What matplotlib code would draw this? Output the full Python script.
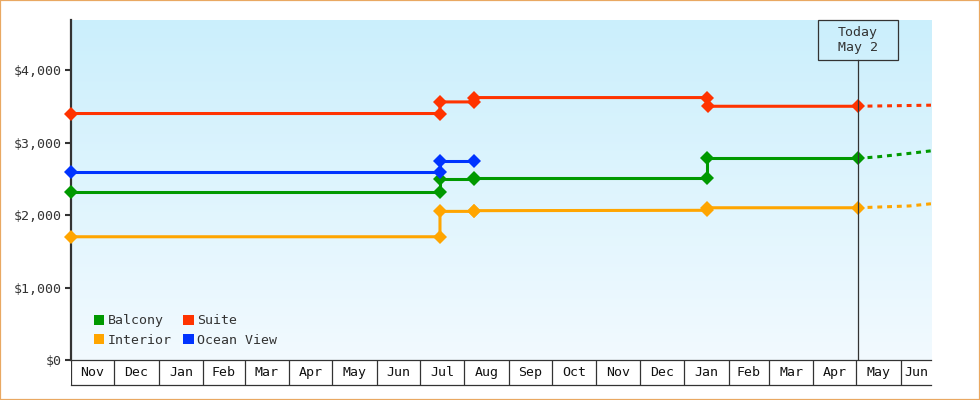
import matplotlib
matplotlib.use('Agg')
import matplotlib.pyplot as plt
import matplotlib.dates as mdates
from matplotlib.patches import Rectangle, Patch
from matplotlib.colors import LinearSegmentedColormap
from matplotlib.ticker import FuncFormatter
import numpy as np
import pandas as pd

# ---------------- data ----------------
series_names = ['Balcony', 'Interior', 'Suite', 'Ocean View']

balcony_dates = ['2023-11-01', '2024-07-15', '2024-07-15', '2024-08-08', '2024-08-08',
                 '2025-01-17', '2025-01-17', '2025-05-02']
balcony_values = [2320, 2320, 2500, 2500, 2510, 2510, 2780, 2780]

interior_dates = ['2023-11-01', '2024-07-15', '2024-07-15', '2024-08-08', '2024-08-08',
                  '2025-01-17', '2025-01-17', '2025-05-02']
interior_values = [1700, 1700, 2050, 2050, 2060, 2065, 2100, 2100]

suite_dates = ['2023-11-01', '2024-07-15', '2024-07-15', '2024-08-08', '2024-08-08',
               '2025-01-17', '2025-01-18', '2025-05-02']
suite_values = [3400, 3400, 3560, 3560, 3620, 3620, 3500, 3500]

ocean_dates = ['2023-11-01', '2024-07-15', '2024-07-15', '2024-08-08']
ocean_values = [2600, 2600, 2750, 2750]

# forecast (dotted) parts
balcony_fc_dates = ['2025-05-02', '2025-05-17', '2025-06-07', '2025-06-22']
balcony_fc_values = [2780, 2805, 2850, 2885]
interior_fc_dates = ['2025-05-02', '2025-06-07', '2025-06-22']
interior_fc_values = [2100, 2125, 2155]
suite_fc_dates = ['2025-05-02', '2025-06-22']
suite_fc_values = [3500, 3515]

today = '2025-05-02'
today_label = 'Today\nMay 2'

x_start = '2023-11-01'
x_end = '2025-06-22'
month_labels = ['Nov', 'Dec', 'Jan', 'Feb', 'Mar', 'Apr', 'May', 'Jun', 'Jul', 'Aug',
                'Sep', 'Oct', 'Nov', 'Dec', 'Jan', 'Feb', 'Mar', 'Apr', 'May', 'Jun']
y_ticks = [0, 1000, 2000, 3000, 4000]
y_max = 4690

colors = {'Balcony': '#009900', 'Interior': '#FFA500', 'Suite': '#FF3300', 'Ocean View': '#0033FF'}

# ---------------- figure ----------------
W, H = 980, 400
DPI = 100
fig = plt.figure(figsize=(W / DPI, H / DPI), dpi=DPI)
fig.patch.set_facecolor('white')

FONT = 'DejaVu Sans Mono'
FS = 9.5
TXT = '#333333'

L, R, T, B = 71, 931, 20, 360
ax = fig.add_axes([L / W, 1 - B / H, (R - L) / W, (B - T) / H])
ax.set_facecolor('none')

# gradient background
cmap = LinearSegmentedColormap.from_list('bg', ['#F2FAFF', '#CBEFFC'])
grad = np.linspace(0, 1, 256).reshape(-1, 1)
ax.imshow(grad, extent=[0, 1, 0, 1], transform=ax.transAxes, origin='lower',
          cmap=cmap, aspect='auto', zorder=0, interpolation='bicubic')

xs = mdates.date2num(pd.Timestamp(x_start))
xe = mdates.date2num(pd.Timestamp(x_end))
ax.set_xlim(xs, xe)
ax.set_ylim(0, y_max)

def d(lst):
    return pd.to_datetime(lst)

LW = 2.2
MS = 7
main = [('Balcony', balcony_dates, balcony_values),
        ('Interior', interior_dates, interior_values),
        ('Suite', suite_dates, suite_values),
        ('Ocean View', ocean_dates, ocean_values)]
for name, dts, vals in main:
    ax.plot(d(dts), vals, color=colors[name], lw=LW, marker='D', ms=MS,
            markeredgewidth=0, zorder=4, solid_joinstyle='miter', clip_on=False)

fcs = [('Balcony', balcony_fc_dates, balcony_fc_values),
       ('Interior', interior_fc_dates, interior_fc_values),
       ('Suite', suite_fc_dates, suite_fc_values)]
for name, dts, vals in fcs:
    dd = d(dts)
    ln, = ax.plot(dd, vals, color=colors[name], lw=LW, zorder=3)
    ln.set_dashes((1.6, 1.6))
    ln.set_dash_capstyle('butt')

# today line
tnum = mdates.date2num(pd.Timestamp(today))
box_h_px = 40
ax.axvline(tnum, ymin=0, ymax=1 - box_h_px / (B - T), color=TXT, lw=0.9, zorder=5)

# y axis
ax.set_yticks(y_ticks)
ax.yaxis.set_major_formatter(FuncFormatter(lambda v, p: '${:,.0f}'.format(v)))
ax.tick_params(axis='y', length=4.5, width=1.5, color=TXT, pad=2.2, labelsize=FS,
               labelcolor=TXT)
for lab in ax.get_yticklabels():
    lab.set_fontfamily(FONT)
ax.set_xticks([])
for s in ['top', 'right']:
    ax.spines[s].set_visible(False)
ax.spines['left'].set_color(TXT)
ax.spines['left'].set_linewidth(1.6)
ax.spines['left'].set_zorder(2)
ax.spines['bottom'].set_color(TXT)
ax.spines['bottom'].set_linewidth(0.9)

# legend
handles = [Patch(facecolor=colors[n], edgecolor='none', label=n) for n in series_names]
leg = ax.legend(handles=handles, ncol=2, loc='lower left', frameon=False,
                bbox_to_anchor=(0.017, 0.015), prop={'family': FONT, 'size': FS},
                handlelength=0.8, handleheight=0.8, handletextpad=0.25,
                columnspacing=0.9, labelspacing=0.5, borderaxespad=0.2)
for t in leg.get_texts():
    t.set_color(TXT)

# month strip
ax2 = fig.add_axes([L / W, 15 / H, (R - L) / W, 25 / H])
ax2.set_xlim(xs, xe)
ax2.set_ylim(0, 1)
ax2.set_facecolor('none')
ax2.set_xticks([])
ax2.set_yticks([])
for s in ['top', 'left', 'right']:
    ax2.spines[s].set_visible(False)
ax2.spines['bottom'].set_color(TXT)
ax2.spines['bottom'].set_linewidth(0.9)
month_starts = pd.date_range(x_start, periods=len(month_labels), freq='MS')
for i, (ms_, lab) in enumerate(zip(month_starts, month_labels)):
    a = mdates.date2num(ms_)
    nxt = mdates.date2num(ms_ + pd.offsets.MonthBegin(1))
    b = min(nxt, xe)
    ax2.axvline(a, color=TXT, lw=0.9)
    ax2.text((a + b) / 2, 0.5, lab, ha='center', va='center', fontsize=FS,
             family=FONT, color='#111111')

# today box
fig.canvas.draw()
px = ax.transData.transform((tnum, 0))[0]
box_w_px = 80
top_px = H - T  # in display coords from bottom
rect = Rectangle(((px - box_w_px / 2) / W, (top_px - box_h_px) / H), box_w_px / W, box_h_px / H,
                 transform=fig.transFigure, facecolor='none', edgecolor=TXT, lw=0.9, zorder=6)
fig.add_artist(rect)
fig.text(px / W, (top_px - box_h_px / 2) / H, today_label, ha='center', va='center',
         fontsize=FS, family=FONT, color=TXT, linespacing=1.25)

# figure border
border = Rectangle((0, 0), 1, 1, transform=fig.transFigure,
                   facecolor='none', edgecolor='#E9A862', lw=1.6)
fig.add_artist(border)

fig.savefig('out.png', dpi=DPI, facecolor='white')
